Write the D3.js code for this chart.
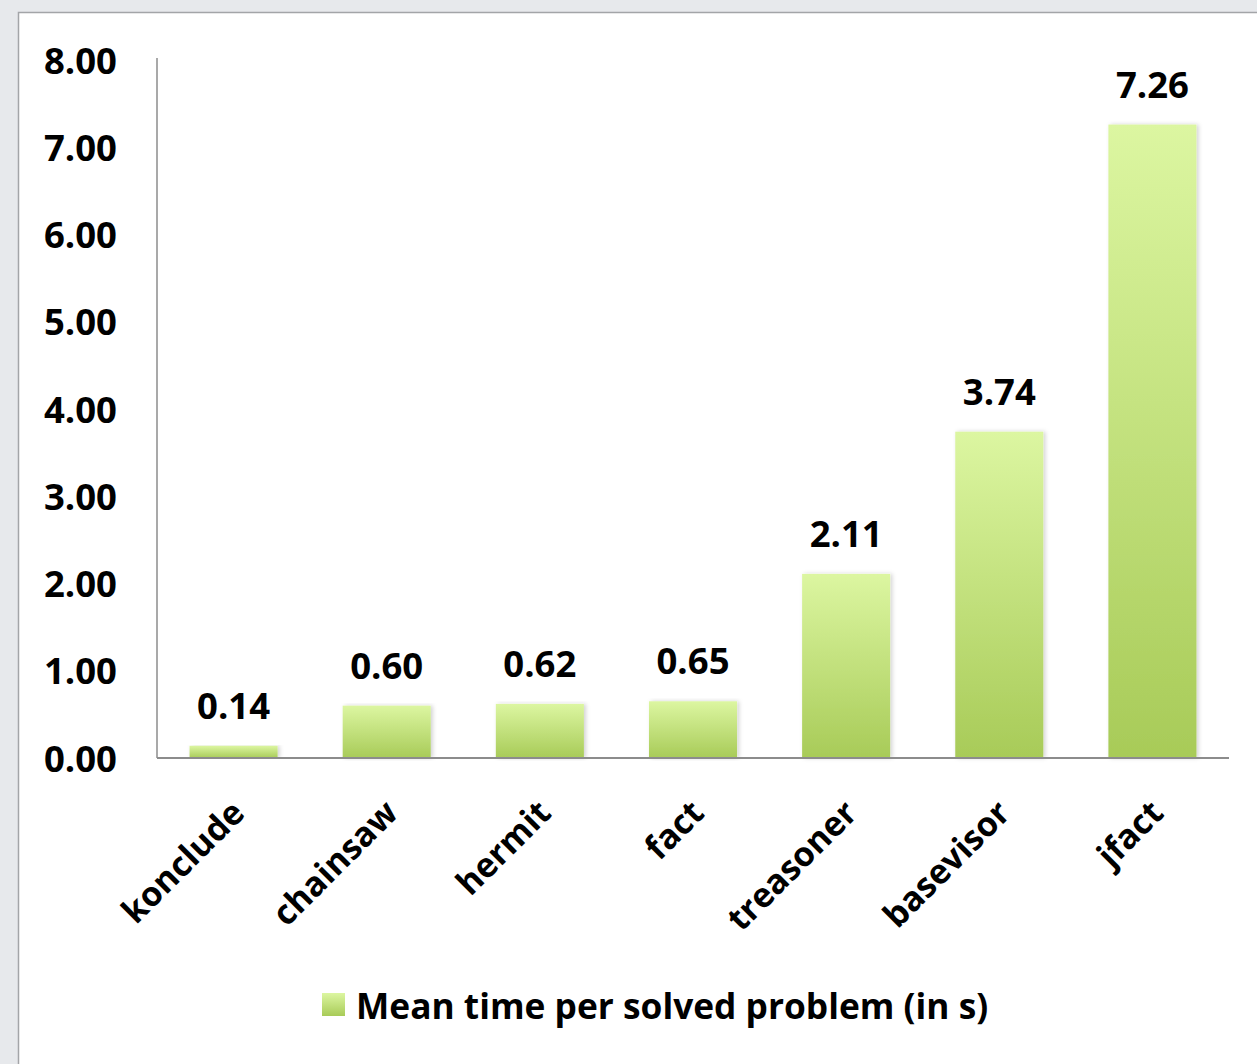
<!DOCTYPE html>
<html>
<head>
<meta charset="utf-8">
<script src="https://cdn.jsdelivr.net/npm/d3@7"></script>
<style>
  html, body { margin: 0; padding: 0; background: #e7e9ec; }
  svg { display: block; }
  text { font-family: "Open Sans", Lato, sans-serif; font-weight: bold; fill: #000; }
</style>
</head>
<body>
<script>
const categories = ["konclude", "chainsaw", "hermit", "fact", "treasoner", "basevisor", "jfact"];
const values = [0.14, 0.60, 0.62, 0.65, 2.11, 3.74, 7.26];
const valueLabels = ["0.14", "0.60", "0.62", "0.65", "2.11", "3.74", "7.26"];
const yTicks = [0, 1, 2, 3, 4, 5, 6, 7, 8];
const seriesName = "Mean time per solved problem (in s)";

const W = 1257, H = 1064;
const NUM_FS = 36.5, CAT_FS = 34, LEG_FS = 35.3;
const svg = d3.select("body").append("svg").attr("width", W).attr("height", H);

const defs = svg.append("defs");
const grad = defs.append("linearGradient").attr("id", "barGrad")
  .attr("x1", 0).attr("y1", 0).attr("x2", 0).attr("y2", 1);
grad.append("stop").attr("offset", "0%").attr("stop-color", "#dcf6a1");
grad.append("stop").attr("offset", "100%").attr("stop-color", "#a8cb58");
const f = defs.append("filter").attr("id", "shadow").attr("x", "-20%").attr("y", "-5%").attr("width", "140%").attr("height", "110%");
f.append("feDropShadow").attr("dx", 2).attr("dy", 0).attr("stdDeviation", 2)
  .attr("flood-color", "#000").attr("flood-opacity", 0.18);

// background and panel
svg.append("rect").attr("width", W).attr("height", H).attr("fill", "#e7e9ec");
svg.append("rect").attr("x", 18.5).attr("y", 12.5).attr("width", W).attr("height", H)
  .attr("fill", "#ffffff").attr("stroke", "#a3a5a8").attr("stroke-width", 1.5);

const x0 = 157, x1 = 1229, yTop = 60, yBot = 758;
const x = d3.scaleBand().domain(categories).range([x0, x1]).paddingInner(0.425).paddingOuter(0.2125);
const y = d3.scaleLinear().domain([0, 8]).range([yBot, yTop]);

// y axis
const yAxis = d3.axisLeft(y).tickValues(yTicks).tickFormat(d3.format(".2f")).tickSize(0).tickPadding(40);
const gy = svg.append("g").attr("transform", `translate(${x0},0)`).call(yAxis);
gy.select(".domain").attr("stroke", "#8c8c8c").attr("stroke-width", 1.5).attr("d", `M0,${yTop - 2}V${yBot}`);
gy.selectAll("text").attr("font-size", NUM_FS).attr("dy", "0.36em")
  .style("font-family", "'Open Sans', sans-serif").style("font-weight", "bold");

// bars
svg.append("g").selectAll("rect").data(values).join("rect")
  .attr("x", (d, i) => x(categories[i]))
  .attr("width", x.bandwidth())
  .attr("y", d => y(d))
  .attr("height", d => y(0) - y(d))
  .attr("fill", "url(#barGrad)")
  .attr("filter", "url(#shadow)");

// x axis
const xAxis = d3.axisBottom(x).tickSize(0).tickFormat("");
const gx = svg.append("g").attr("transform", `translate(0,${yBot})`).call(xAxis);
gx.select(".domain").attr("stroke", "#8c8c8c").attr("stroke-width", 2).attr("d", `M${x0},0H${x1}`);

// category labels
svg.append("g").selectAll("text").data(categories).join("text")
  .attr("transform", d => `translate(${x(d) + x.bandwidth() / 2 + 13},${yBot + 57}) rotate(-45)`)
  .attr("text-anchor", "end")
  .attr("font-size", CAT_FS)
  .text(d => d);

// value labels
svg.append("g").selectAll("text").data(values).join("text")
  .attr("x", (d, i) => x(categories[i]) + x.bandwidth() / 2)
  .attr("y", d => y(d) - 27)
  .attr("text-anchor", "middle")
  .attr("font-size", NUM_FS)
  .text((d, i) => valueLabels[i]);

// legend
const lg = svg.append("g").attr("transform", "translate(322,993)");
lg.append("rect").attr("width", 23).attr("height", 23).attr("fill", "url(#barGrad)");
lg.append("text").attr("x", 34).attr("y", 26).attr("font-size", LEG_FS).text(seriesName);
</script>
</body>
</html>
